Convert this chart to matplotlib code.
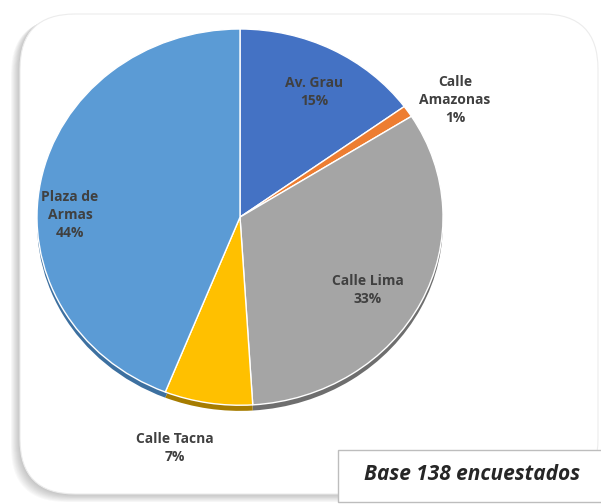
import matplotlib
matplotlib.use("Agg")
import matplotlib.pyplot as plt
from matplotlib.patches import FancyBboxPatch, Rectangle

# encuesta: lugar de preferencia
lugares = ["Av. Grau", "Calle\nAmazonas", "Calle Lima", "Calle Tacna", "Plaza de\nArmas"]
porcentajes = [15, 1, 33, 7, 44]
colores = ["#4472C4", "#ED7D31", "#A5A5A5", "#FFC000", "#5B9BD5"]
sombras = ["#2f5597", "#b55a1c", "#6e6e6e", "#a67c00", "#3d70a0"]
nota = "Base 138 encuestados"

W, H = 601, 504
fig = plt.figure(figsize=(W / 100, H / 100), dpi=100)
fig.patch.set_facecolor("white")
fuente = ["Open Sans", "DejaVu Sans"]


def capa_pixeles(z):
    ax = fig.add_axes([0, 0, 1, 1])
    ax.set_xlim(0, W)
    ax.set_ylim(H, 0)
    ax.axis("off")
    ax.set_zorder(z)
    return ax


bg = capa_pixeles(0)

# sombra difusa del marco redondeado (hacia la izquierda y abajo)
for i in range(10):
    d = 10 - i
    bg.add_patch(FancyBboxPatch((20 - d * 0.9, 14 + d * 0.5), 578, 480 + d * 0.3,
                                boxstyle="round,pad=0,rounding_size=55",
                                fc="#505050", ec="none", alpha=0.035))
bg.add_patch(FancyBboxPatch((20, 14), 578, 480,
                            boxstyle="round,pad=0,rounding_size=55",
                            fc="white", ec="#ececec", lw=0.8))

# recuadro de la base
bg.add_patch(Rectangle((338, 450), 270, 52, fc="white", ec="#bdbdbd", lw=1.0))
bg.text(472, 475, nota, ha="center", va="center", fontsize=15,
        fontweight="bold", fontstyle="italic", color="#262626", family=fuente)

# pastel (ligeramente eliptico)
cx, cy, rx, ry = 240, 219, 203, 190
pie_ax = fig.add_axes([(cx - rx) / W, (H - cy - ry) / H, 2 * rx / W, 2 * ry / H])
pie_ax.set_zorder(1)

# borde inferior oscuro (efecto 3D)
pie_ax.pie(porcentajes, colors=sombras, startangle=90, counterclock=False,
           center=(0, -0.03), wedgeprops=dict(linewidth=0))
pie_ax.pie(porcentajes, colors=colores, startangle=90, counterclock=False,
           wedgeprops=dict(edgecolor="white", linewidth=1.0))
pie_ax.set_aspect("auto")
pie_ax.set_xlim(-1, 1)
pie_ax.set_ylim(-1.02, 1.0)
pie_ax.axis("off")

# etiquetas en pixeles
lab = capa_pixeles(2)
pos = [(314, 92), (455, 100), (368, 290), (175, 448), (70, 215)]
for lugar, p, (x, y) in zip(lugares, porcentajes, pos):
    lab.text(x, y, f"{lugar}\n{p}%", ha="center", va="center", fontsize=10,
             fontweight="bold", color="#404040", linespacing=1.35, family=fuente)

fig.savefig("out.png", dpi=100)
